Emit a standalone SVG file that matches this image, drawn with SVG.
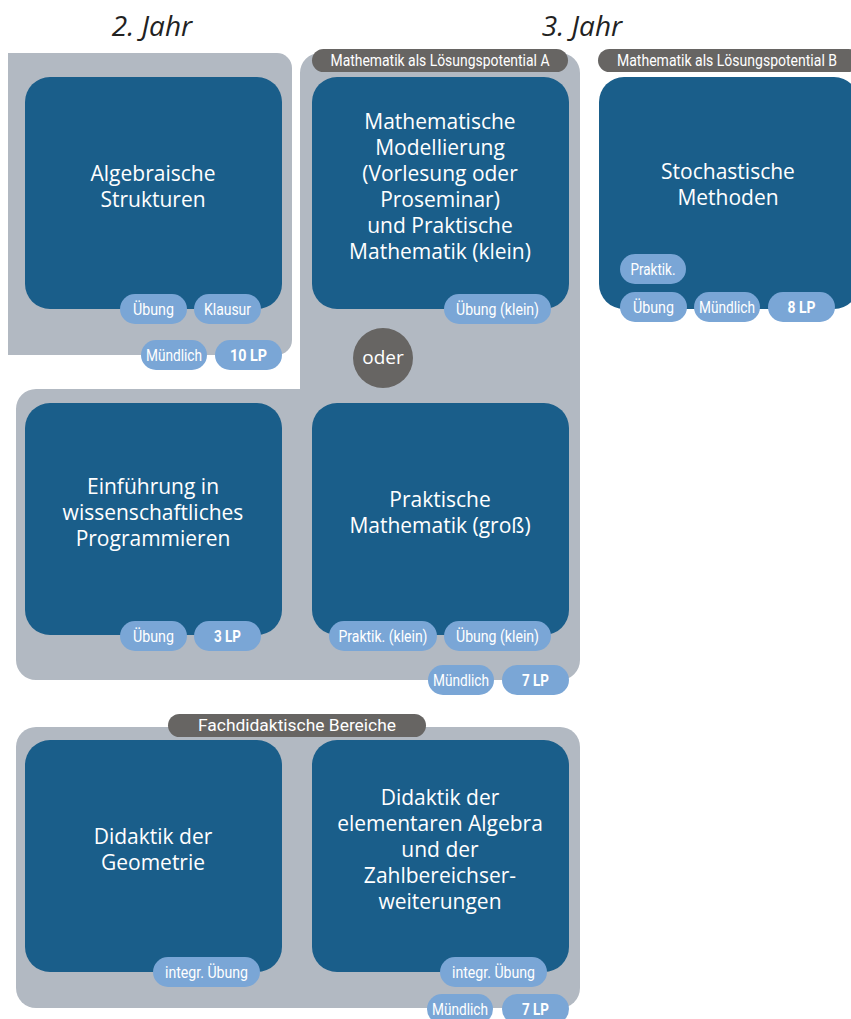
<svg xmlns="http://www.w3.org/2000/svg" width="851" height="1019" viewBox="0 0 851 1019">
<style>
.panel{fill:#b2b9c2}
.box{fill:#1a5e8a}
.pill{fill:#7aa6d6}
.tag{fill:#676563}
.bt{font-family:"Open Sans","Noto Sans",sans-serif;font-size:21px;fill:#fff;text-anchor:middle}
.pt{font-family:Roboto,"Liberation Sans",sans-serif;font-size:17px;fill:#fff;text-anchor:middle}
.pb{font-family:Roboto,"Liberation Sans",sans-serif;font-size:17px;font-weight:bold;fill:#fff;text-anchor:middle}
.tt{font-family:Roboto,"Liberation Sans",sans-serif;font-size:16px;fill:#fff;text-anchor:middle}
.yr{font-family:"Open Sans","Liberation Sans",sans-serif;font-size:28px;font-style:italic;fill:#222;text-anchor:middle}
</style>
<rect width="851" height="1019" fill="#fff"/>
<g id="headings">
<text class="yr" x="152" y="36">2. Jahr</text>
<text class="yr" x="582" y="36">3. Jahr</text>
</g>
<g id="panels">
<path class="panel" d="M8,53 H277 A15,15 0 0 1 292,68 V340 A15,15 0 0 1 277,355 H8 Z"/>
<path class="panel" d="M320,53 H560 A20,20 0 0 1 580,73 V660 A20,20 0 0 1 560,680 H36 A20,20 0 0 1 16,660 V409 A20,20 0 0 1 36,389 H300 V73 A20,20 0 0 1 320,53 Z"/>
<rect class="panel" x="16" y="727" width="564" height="281" rx="20"/>
</g>
<g id="tags">
<rect class="tag" x="312" y="49" width="256" height="23" rx="11.5"/>
<text class="tt" x="440" y="66" textLength="219" lengthAdjust="spacingAndGlyphs">Mathematik als Lösungspotential A</text>
<rect class="tag" x="598" y="49" width="262" height="23" rx="11.5"/>
<text class="tt" x="727" y="66" textLength="220" lengthAdjust="spacingAndGlyphs">Mathematik als Lösungspotential B</text>
<rect class="tag" x="168" y="714" width="258" height="23" rx="11.5"/>
<text class="tt" x="297" y="731" textLength="198" lengthAdjust="spacingAndGlyphs">Fachdidaktische Bereiche</text>
</g>
<g id="algebra">
<rect class="box" x="25" y="77" width="257" height="232" rx="25"/>
<text class="bt" x="153" y="181">Algebraische</text>
<text class="bt" x="153" y="207">Strukturen</text>
<rect class="pill" x="120" y="294" width="67" height="30" rx="15"/><text class="pt" x="153.5" y="315" textLength="41" lengthAdjust="spacingAndGlyphs">Übung</text>
<rect class="pill" x="194" y="294" width="67" height="30" rx="15"/><text class="pt" x="227.5" y="315" textLength="47" lengthAdjust="spacingAndGlyphs">Klausur</text>
<rect class="pill" x="141" y="340" width="66" height="30" rx="15"/><text class="pt" x="174" y="361" textLength="56" lengthAdjust="spacingAndGlyphs">Mündlich</text>
<rect class="pill" x="215" y="340" width="67" height="30" rx="15"/><text class="pb" x="248.5" y="361" textLength="37" lengthAdjust="spacingAndGlyphs">10 LP</text>
</g>
<g id="modellierung">
<rect class="box" x="312" y="77" width="257" height="232" rx="25"/>
<text class="bt" x="440" y="129">Mathematische</text>
<text class="bt" x="440" y="155">Modellierung</text>
<text class="bt" x="440" y="181">(Vorlesung oder</text>
<text class="bt" x="440" y="207">Proseminar)</text>
<text class="bt" x="440" y="233">und Praktische</text>
<text class="bt" x="440" y="259">Mathematik (klein)</text>
<rect class="pill" x="444" y="294" width="107" height="30" rx="15"/><text class="pt" x="497.5" y="315" textLength="83" lengthAdjust="spacingAndGlyphs">Übung (klein)</text>
</g>
<g id="oder">
<circle cx="383" cy="358" r="30" fill="#676563"/>
<text class="bt" x="383" y="364" style="font-size:19px">oder</text>
</g>
<g id="stochastik">
<rect class="box" x="599" y="77" width="260" height="232" rx="25"/>
<text class="bt" x="728" y="179">Stochastische</text>
<text class="bt" x="728" y="205">Methoden</text>
<rect class="pill" x="620" y="254" width="66" height="30" rx="15"/><text class="pt" x="653" y="275" textLength="45" lengthAdjust="spacingAndGlyphs">Praktik.</text>
<rect class="pill" x="620" y="292" width="67" height="30" rx="15"/><text class="pt" x="653.5" y="313" textLength="41" lengthAdjust="spacingAndGlyphs">Übung</text>
<rect class="pill" x="694" y="292" width="66" height="30" rx="15"/><text class="pt" x="727" y="313" textLength="56" lengthAdjust="spacingAndGlyphs">Mündlich</text>
<rect class="pill" x="768" y="292" width="67" height="30" rx="15"/><text class="pb" x="801.5" y="313" textLength="28" lengthAdjust="spacingAndGlyphs">8 LP</text>
</g>
<g id="programmieren">
<rect class="box" x="25" y="403" width="257" height="232" rx="25"/>
<text class="bt" x="153" y="494">Einführung in</text>
<text class="bt" x="153" y="520">wissenschaftliches</text>
<text class="bt" x="153" y="546">Programmieren</text>
<rect class="pill" x="120" y="621" width="67" height="30" rx="15"/><text class="pt" x="153.5" y="642" textLength="41" lengthAdjust="spacingAndGlyphs">Übung</text>
<rect class="pill" x="194" y="621" width="67" height="30" rx="15"/><text class="pb" x="227.5" y="642" textLength="27" lengthAdjust="spacingAndGlyphs">3 LP</text>
</g>
<g id="praktische">
<rect class="box" x="312" y="403" width="257" height="232" rx="25"/>
<text class="bt" x="440" y="507">Praktische</text>
<text class="bt" x="440" y="533">Mathematik (groß)</text>
<rect class="pill" x="329" y="621" width="108" height="30" rx="15"/><text class="pt" x="383" y="642" textLength="89" lengthAdjust="spacingAndGlyphs">Praktik. (klein)</text>
<rect class="pill" x="444" y="621" width="107" height="30" rx="15"/><text class="pt" x="497.5" y="642" textLength="83" lengthAdjust="spacingAndGlyphs">Übung (klein)</text>
<rect class="pill" x="428" y="665" width="66" height="30" rx="15"/><text class="pt" x="461" y="686" textLength="56" lengthAdjust="spacingAndGlyphs">Mündlich</text>
<rect class="pill" x="502" y="665" width="67" height="30" rx="15"/><text class="pb" x="535.5" y="686" textLength="27" lengthAdjust="spacingAndGlyphs">7 LP</text>
</g>
<g id="geometrie">
<rect class="box" x="25" y="740" width="257" height="232" rx="25"/>
<text class="bt" x="153" y="844">Didaktik der</text>
<text class="bt" x="153" y="870">Geometrie</text>
<rect class="pill" x="153" y="957" width="107" height="30" rx="15"/><text class="pt" x="206.5" y="978" textLength="83" lengthAdjust="spacingAndGlyphs">integr. Übung</text>
</g>
<g id="algebradidaktik">
<rect class="box" x="312" y="740" width="257" height="232" rx="25"/>
<text class="bt" x="440" y="805">Didaktik der</text>
<text class="bt" x="440" y="831">elementaren Algebra</text>
<text class="bt" x="440" y="857">und der</text>
<text class="bt" x="440" y="883">Zahlbereichser-</text>
<text class="bt" x="440" y="909">weiterungen</text>
<rect class="pill" x="440" y="957" width="107" height="30" rx="15"/><text class="pt" x="493.5" y="978" textLength="83" lengthAdjust="spacingAndGlyphs">integr. Übung</text>
<rect class="pill" x="427" y="994" width="66" height="30" rx="15"/><text class="pt" x="460" y="1015" textLength="56" lengthAdjust="spacingAndGlyphs">Mündlich</text>
<rect class="pill" x="502" y="994" width="67" height="30" rx="15"/><text class="pb" x="535.5" y="1015" textLength="27" lengthAdjust="spacingAndGlyphs">7 LP</text>
</g>
<g id="connectors"></g>
</svg>
